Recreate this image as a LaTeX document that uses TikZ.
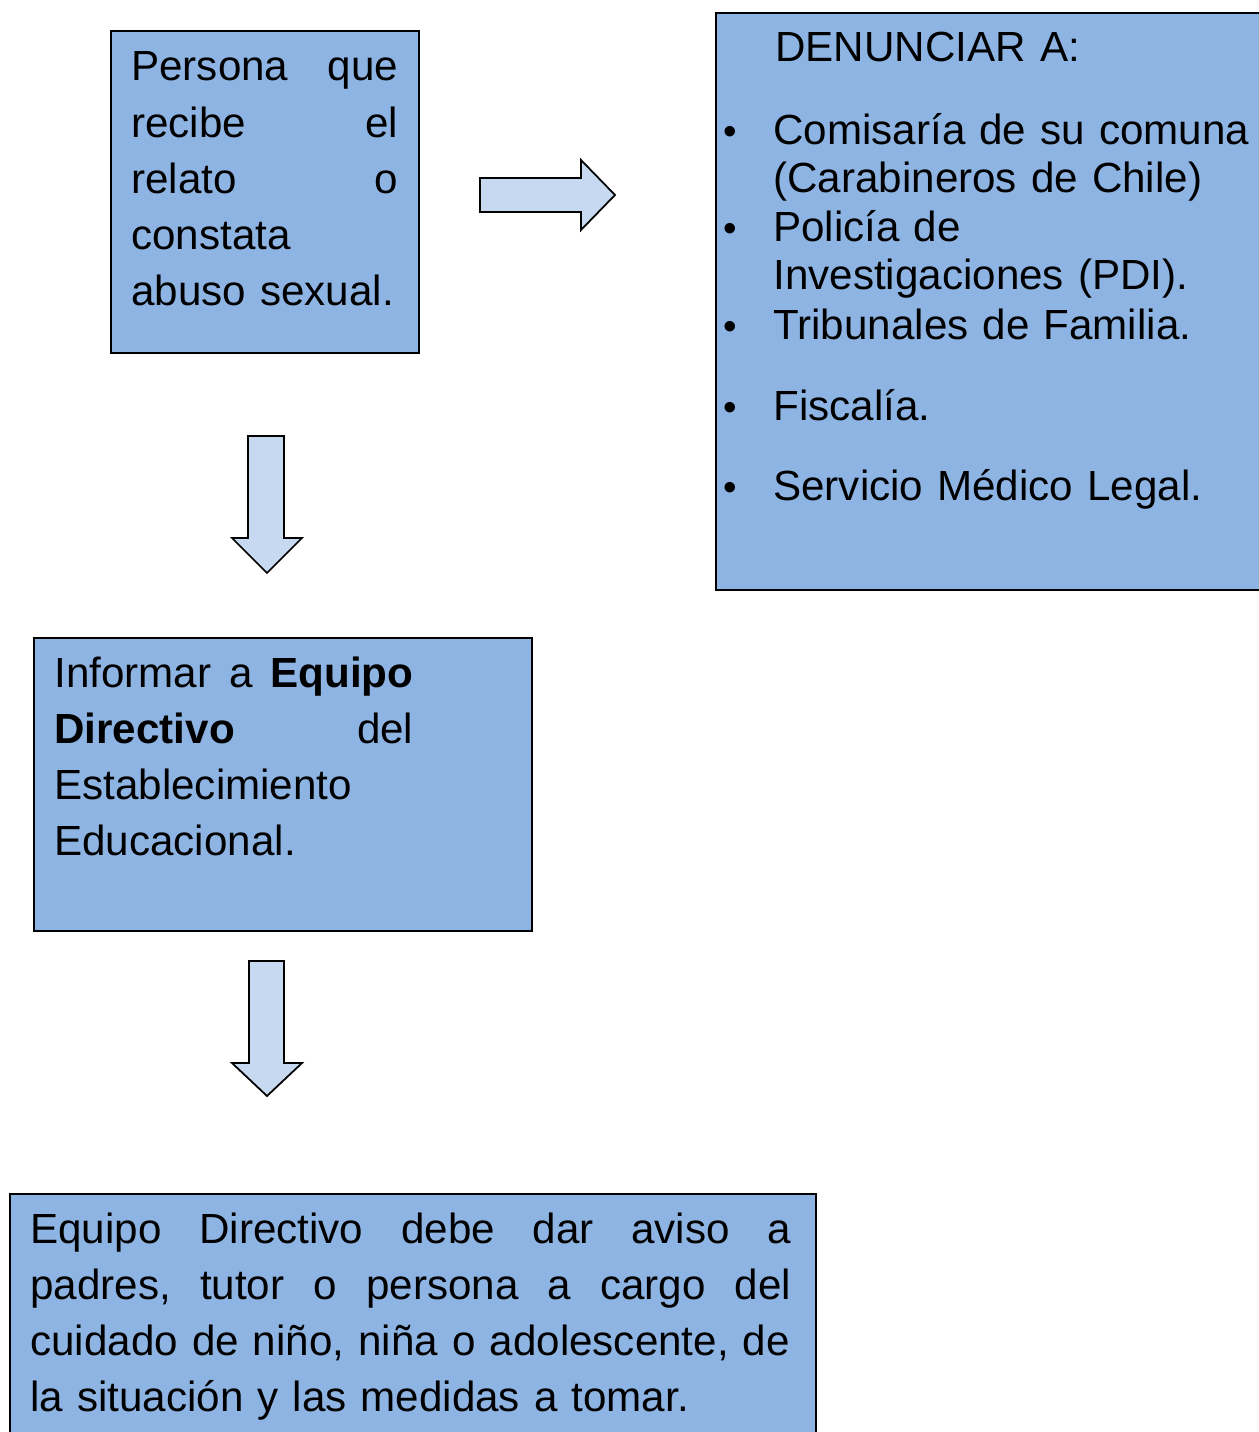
\documentclass[tikz,border=0pt]{standalone}
\usepackage{fontspec}
\setmainfont{Liberation Sans}
\usetikzlibrary{positioning}

\definecolor{boxblue}{HTML}{8EB4E3}
\definecolor{arrowblue}{HTML}{C6D9F1}

\newcommand{\itembullet}{\llap{{\fontsize{22}{22}\selectfont\textbullet}\hspace{0.72cm}}}

\begin{document}
\begin{tikzpicture}[x=0.02cm, y=-0.02cm,
    box/.style={draw, line width=1.1pt, fill=boxblue, inner sep=0pt, anchor=north west},
    boxtext/.style={anchor=base west, inner sep=0pt, align=left, font=\fontsize{24}{31.9}\selectfont},
    listtext/.style={anchor=base west, inner sep=0pt, align=left, text width=10cm, font=\fontsize{24}{27.3}\selectfont},
    blockarrow/.style={draw, line width=1pt, fill=arrowblue, line join=miter}]

    \useasboundingbox (0,0) rectangle (1258,1432);

    % boxes
    \node [box, minimum width=6.16cm, minimum height=6.44cm] (persona) at (110,30) {};
    \node [box, minimum width=11cm, minimum height=11.54cm] (denunciar) at (715,12) {};
    \node [box, minimum width=9.96cm, minimum height=5.86cm] (informar) at (33,637) {};
    \node [box, minimum width=16.12cm, minimum height=5.04cm] (aviso) at (9,1193) {};

    \node [boxtext, text width=5.34cm] (personatxt) at (131,81)
        {Persona\hfill que\\recibe\hfill el\\relato\hfill o\\constata\\abuso sexual.};

    \node [boxtext, text width=7.18cm] (informartxt) at (54,687)
        {Informar\hfill a\hfill \textbf{Equipo}\\\textbf{Directivo}\hfill del\\Establecimiento\\Educacional.};

    \node [boxtext, text width=15.22cm] (avisotxt) at (30,1243)
        {Equipo\hfill Directivo\hfill debe\hfill dar\hfill aviso\hfill a\\
         padres,\hfill tutor\hfill o\hfill persona\hfill a\hfill cargo\hfill del\\
         cuidado de niño, niña o adolescente, de\\
         la situación y las medidas a tomar.};

    % lista de denuncia
    \node [listtext] (titulo) at (775,62) {DENUNCIAR A:};
    \node [listtext] (comisaria) at (773,145)
        {\itembullet Comisaría de su comuna\\(Carabineros de Chile)};
    \node [listtext] (pdi) at (773,242)
        {\itembullet Policía de\\Investigaciones (PDI).};
    \node [listtext] (tribunales) at (773,340) {\itembullet Tribunales de Familia.};
    \node [listtext] (fiscalia) at (773,420) {\itembullet Fiscalía.};
    \node [listtext] (sml) at (773,500) {\itembullet Servicio Médico Legal.};

    % flechas
    \draw [blockarrow] (480,178) -- (581,178) -- (581,160) -- (615,195) -- (581,230) -- (581,212) -- (480,212) -- cycle;
    \draw [blockarrow] (248,436) -- (284,436) -- (284,538) -- (302,538) -- (267,573) -- (232,538) -- (248,538) -- cycle;
    \draw [blockarrow] (249,961) -- (284,961) -- (284,1063) -- (302,1063) -- (267,1096) -- (232,1063) -- (249,1063) -- cycle;

\end{tikzpicture}
\end{document}
